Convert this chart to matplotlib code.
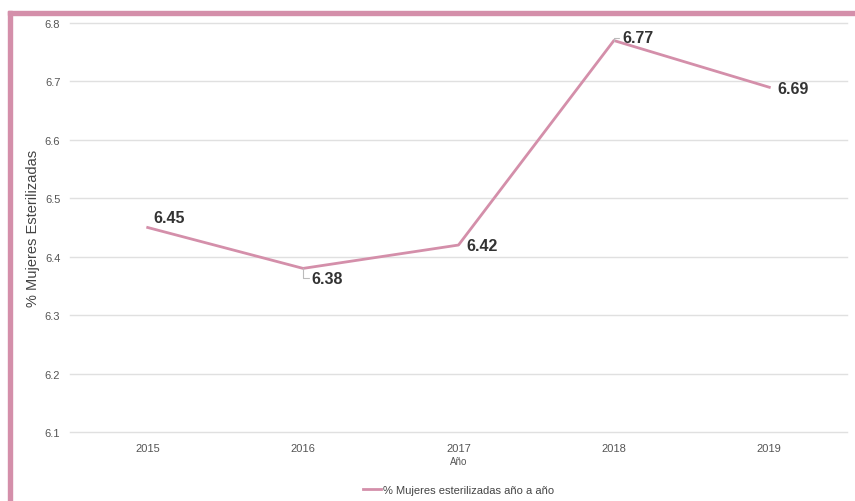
import matplotlib.pyplot as plt
from matplotlib.patches import Rectangle

plt.rcParams['font.family'] = ['Liberation Sans', 'DejaVu Sans']

# ── data ─────────────────────────────────────────────────────────────────────
years = ['2015', '2016', '2017', '2018', '2019']
pct_esterilizadas = [6.45, 6.38, 6.42, 6.77, 6.69]
yticks = [6.1, 6.2, 6.3, 6.4, 6.5, 6.6, 6.7, 6.8]

# label offsets (points) and whether a leader line is drawn
label_offsets = [(4, 7), (6, -7), (6, 0), (6, 2), (6, -1)]
leader = [False, True, False, True, False]

pink = '#D48FAA'

fig = plt.figure(figsize=(8.55, 5.02), dpi=100)
ax = fig.add_axes([70 / 855, 1 - 433 / 502, 777 / 855, 409 / 502])

x = list(range(len(years)))
ax.plot(x, pct_esterilizadas, color=pink, lw=2, label='% Mujeres esterilizadas año a año')

for xi, v, off, ld in zip(x, pct_esterilizadas, label_offsets, leader):
    ap = None
    if ld:
        ap = dict(arrowstyle='-', color='#bbbbbb', lw=0.8,
                  connectionstyle='angle,angleA=0,angleB=90,rad=0',
                  shrinkA=0, shrinkB=0)
    ax.annotate(f'{v:.2f}', (xi, v), xytext=off, textcoords='offset points',
                fontsize=11.5, fontweight='bold', color='#333333',
                ha='left', va='center', arrowprops=ap)

ax.set_xlim(-0.5, len(years) - 0.5)
ax.set_ylim(6.1, 6.8)
ax.set_xticks(x)
ax.set_xticklabels(years)
ax.set_yticks(yticks)
ax.set_yticklabels([f'{t:.1f}' for t in yticks])
ax.grid(axis='y', color='#e0e0e0', lw=1)
for gl in ax.get_ygridlines():
    gl.set_clip_on(False)
ax.set_axisbelow(True)
for s in ax.spines.values():
    s.set_visible(False)
ax.tick_params(length=0, labelsize=8, colors='#555555', pad=8)
ax.tick_params(axis='y', pad=7)

ax.set_ylabel('% Mujeres Esterilizadas', fontsize=10.5, color='#444444', labelpad=0)
ax.yaxis.set_label_coords(-30 / 777, 0.5)
ax.set_xlabel('Año', fontsize=7, color='#555555', labelpad=2)

ax.legend(loc='upper center', bbox_to_anchor=(0.5, -0.105), frameon=False,
          fontsize=8, handlelength=1.6, handletextpad=0.2,
          labelcolor='#444444')

# pink frame on top and left
fig.patches.append(Rectangle((8 / 855, 0), 4 / 855, 1 - 12 / 502,
                             transform=fig.transFigure, color=pink, zorder=5))
fig.patches.append(Rectangle((8 / 855, 1 - 16 / 502), 1, 4 / 502,
                             transform=fig.transFigure, color=pink, zorder=5))

fig.savefig('out.png', dpi=100)
